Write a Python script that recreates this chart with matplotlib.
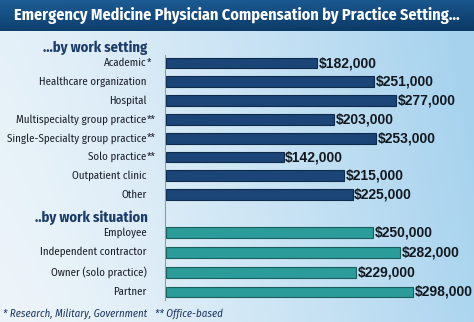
import matplotlib
matplotlib.use("Agg")
import matplotlib.pyplot as plt
import numpy as np
import os
from matplotlib import font_manager
from matplotlib.font_manager import FontProperties
from matplotlib.colors import to_rgb

# data
setting_labels = ["Academic", "Healthcare organization", "Hospital",
                  "Multispecialty group practice", "Single-Specialty group practice",
                  "Solo practice", "Outpatient clinic", "Other"]
setting_marks = ["*", "", "", "**", "**", "**", "", ""]
setting_values = [182000, 251000, 277000, 203000, 253000, 142000, 215000, 225000]

situation_labels = ["Employee", "Independent contractor", "Owner (solo practice)", "Partner"]
situation_values = [250000, 282000, 229000, 298000]

title = "Emergency Medicine Physician Compensation by Practice Setting..."
setting_header = "...by work setting"
situation_header = "..by work situation"
footnote_1 = "* Research, Military, Government"
footnote_2 = "** Office-based"

# fonts: a condensed face if one is around, else DejaVu Sans condensed (a bit smaller)
paths = {os.path.basename(f.fname): f.fname for f in font_manager.fontManager.ttflist}


def narrow(size, weight="normal", style="normal"):
    name = {("normal", "normal"): "FiraSansCondensed-Regular.ttf",
            ("bold", "normal"): "FiraSansCondensed-Bold.ttf",
            ("normal", "italic"): "FiraSansCondensed-Italic.ttf"}[(weight, style)]
    if name in paths:
        return FontProperties(fname=paths[name], size=size)
    return FontProperties(family="DejaVu Sans", stretch="condensed",
                          weight=weight, style=style, size=size * 0.85)


W, H = 474, 322
fig = plt.figure(figsize=(W / 100, H / 100), dpi=100)

# background gradient
bg = fig.add_axes([0, 0, 1, 1], zorder=0)
xs = np.linspace(0, 1, 200)[None, :, None]
ys = np.linspace(0, 1, 120)[:, None, None]
left_c = np.array(to_rgb("#eef5fa"))
right_c = np.array(to_rgb("#a6d2ee"))
t = np.clip(xs ** 1.3 * 0.9 + (1 - ys) * 0.15, 0, 1)
bg.imshow(left_c * (1 - t) + right_c * t, aspect="auto", extent=[0, 1, 0, 1], origin="upper")
bg.set_axis_off()

# title bar
tb = fig.add_axes([0, 1 - 31 / H, 1, 31 / H], zorder=1)
tv = np.linspace(0, 1, 50)[:, None, None]
th = np.linspace(0, 1, 200)[None, :, None]
top_c = np.array(to_rgb("#1d5d96"))
bot_c = np.array(to_rgb("#0b3865"))
tt = np.clip(tv * 0.8 + th * 0.2, 0, 1)
tb.imshow(top_c * (1 - tt) + bot_c * tt, aspect="auto", extent=[0, 1, 0, 1], origin="upper")
tb.set_axis_off()
ttl = fig.text(237 / W, 1 - 16 / H, title, color="white",
               fontproperties=narrow(11, "bold"), ha="center", va="center", zorder=5)
fig.canvas.draw()
w = ttl.get_window_extent().width
ttl.set_fontsize(ttl.get_fontsize() * 446 / w)

# main axes
x0 = 166
ax = fig.add_axes([x0 / W, 0, 1 - x0 / W, 1 - 31 / H], zorder=2)
ax.set_facecolor("none")
row = 18.8
ax.set_ylim((H - 63) / row, (31 - 63) / row)
ax.set_xlim(0, (W - x0) / 0.83 * 1000)

y_set = np.arange(len(setting_values))
y_sit = 9 + 1.06 * np.arange(len(situation_values))

ax.barh(y_set, setting_values, height=0.57, color="#1b4577",
        edgecolor="#0e2a4c", linewidth=0.8)
ax.barh(y_sit, situation_values, height=0.58, color="#2b9c9a",
        edgecolor="#1a5f5e", linewidth=0.8)

for y, v in list(zip(y_set, setting_values)) + list(zip(y_sit, situation_values)):
    ax.annotate(f"${v:,}", xy=(v, y), xytext=(1, 0), textcoords="offset points",
                va="center", ha="left", fontsize=10, fontweight="bold",
                family="Liberation Sans", color="#111820", annotation_clip=False)

lab_kw = dict(xycoords=("axes fraction", "data"), textcoords="offset points",
              va="center", fontproperties=narrow(7.9), color="#1a1f2a",
              annotation_clip=False)
for y, lab, mk in zip(y_set, setting_labels, setting_marks):
    ax.annotate(lab, xy=(0, y), xytext=(-13.8, 0), ha="right", **lab_kw)
    if mk:
        ax.annotate(mk, xy=(0, y), xytext=(-13.6, 0), ha="left", **lab_kw)
for y, lab in zip(y_sit, situation_labels):
    ax.annotate(lab, xy=(0, y), xytext=(-13.8, 0), ha="right", **lab_kw)

hdr_kw = dict(xycoords=("axes fraction", "data"), textcoords="offset points",
              va="center", ha="right", fontproperties=narrow(10.5, "bold"),
              color="#1b3c68", annotation_clip=False)
ax.annotate(setting_header, xy=(0, (47.5 - 63) / row), xytext=(-13.3, 0), **hdr_kw)
ax.annotate(situation_header, xy=(0, (218 - 63) / row), xytext=(-13.3, 0), **hdr_kw)

fig.text(3 / W, 1 - 314 / H, footnote_1, fontproperties=narrow(7.8, style="italic"),
         color="#1b3560", va="center", ha="left", zorder=5)
fig.text(155 / W, 1 - 314 / H, footnote_2, fontproperties=narrow(7.8, style="italic"),
         color="#1b3560", va="center", ha="left", zorder=5)

for s in ["top", "right", "bottom"]:
    ax.spines[s].set_visible(False)
ax.spines["left"].set_color("#8d9bab")
ax.spines["left"].set_linewidth(0.8)
ax.spines["left"].set_bounds((55 - 63) / row, (300 - 63) / row)
ax.spines["left"].set_position(("outward", 1))
ax.set_xticks([])
ax.set_yticks([])

fig.savefig("out.png", dpi=100)
